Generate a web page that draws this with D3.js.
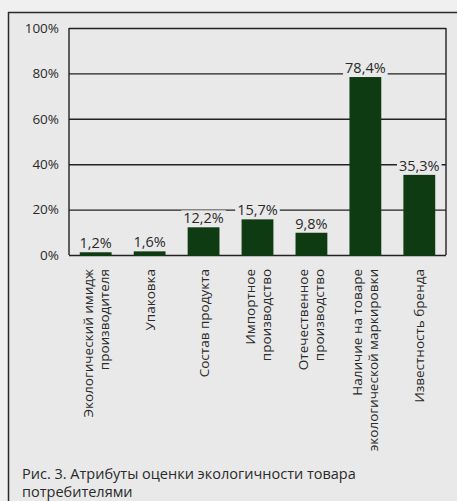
<!DOCTYPE html>
<html><head><meta charset="utf-8">
<script src="https://cdn.jsdelivr.net/npm/d3@7"></script>
<style>
html,body{margin:0;padding:0;background:#ebebeb;}
svg{display:block;}
text{font-family:"Open Sans","Noto Sans",sans-serif;fill:#2a2a2a;}
</style></head>
<body>
<svg id="chart" width="457" height="501"></svg>
<script>
const categories = [
  ["Экологический имидж","производителя"],
  ["Упаковка"],
  ["Состав продукта"],
  ["Импортное","производство"],
  ["Отечественное","производство"],
  ["Наличие на товаре","экологической маркировки"],
  ["Известность бренда"]
];
const values = [1.2, 1.6, 12.2, 15.7, 9.8, 78.4, 35.3];
const valueLabels = ["1,2%","1,6%","12,2%","15,7%","9,8%","78,4%","35,3%"];
const yTicks = [0,20,40,60,80,100];
const caption = ["Рис. 3. Атрибуты оценки экологичности товара","потребителями"];

const svg = d3.select("#chart");
const bg = "#e9e9e9";
const W=457,H=501;
const plot = {left:69,right:446,top:28,bottom:255};

// outer frame
svg.append("rect").attr("x",0).attr("y",0).attr("width",W).attr("height",H).attr("fill","#f0f0f0");
svg.append("rect").attr("x",8).attr("y",12).attr("width",W).attr("height",H).attr("fill",bg);
svg.append("line").attr("x1",8).attr("x2",W).attr("y1",12.5).attr("y2",12.5).attr("stroke","#2a2a2a").attr("stroke-width",1.5);
svg.append("line").attr("x1",8.5).attr("x2",8.5).attr("y1",12).attr("y2",H).attr("stroke","#2a2a2a").attr("stroke-width",1.5);

const x = d3.scaleBand().domain(d3.range(values.length)).range([plot.left,plot.right]).paddingInner(0.41).paddingOuter(0.2);
const y = d3.scaleLinear().domain([0,100]).range([plot.bottom,plot.top]);

// gridlines
const yAxis = d3.axisLeft(y).tickValues(yTicks).tickSize(-(plot.right-plot.left)).tickFormat(d=>d+"%").tickPadding(10);
const gy = svg.append("g").attr("transform",`translate(${plot.left},0)`).call(yAxis);
gy.select(".domain").remove();
gy.selectAll(".tick line").attr("stroke","#222").attr("stroke-width",1.4);
gy.selectAll(".tick text").attr("font-size",13.5).attr("fill","#2a2a2a").attr("font-family","'Open Sans',sans-serif");
// plot border verticals
svg.append("line").attr("x1",plot.left).attr("x2",plot.left).attr("y1",plot.top).attr("y2",plot.bottom).attr("stroke","#222").attr("stroke-width",1.4);
svg.append("line").attr("x1",plot.right).attr("x2",plot.right).attr("y1",plot.top).attr("y2",plot.bottom).attr("stroke","#222").attr("stroke-width",1.4);

// bars
svg.append("g").selectAll("rect").data(values).join("rect")
  .attr("x",(d,i)=>x(i)).attr("width",x.bandwidth())
  .attr("y",d=>y(d)).attr("height",d=>y(0)-y(d)+1)
  .attr("fill","#0f3b13");

// value labels with background
const vl = svg.append("g").selectAll("g").data(values).join("g");
vl.each(function(d,i){
  const g=d3.select(this);
  const t=g.append("text").attr("x",x(i)+x.bandwidth()/2).attr("y",y(d)-4)
    .attr("text-anchor","middle").attr("font-size",14.5).text(valueLabels[i]);
  const b=t.node().getBBox();
  g.insert("rect","text").attr("x",b.x-2).attr("y",b.y+2).attr("width",b.width+4).attr("height",b.height-4).attr("fill",bg);
});

// category labels
const cl = svg.append("g").selectAll("g").data(categories).join("g")
  .attr("transform",(d,i)=>`translate(${x(i)+x.bandwidth()/2},269) rotate(-90)`);
cl.each(function(lines){
  const g=d3.select(this);
  const n=lines.length;
  lines.forEach((s,k)=>{
    g.append("text").attr("x",0).attr("y",(k-(n-1)/2)*16)
      .attr("dominant-baseline","central").attr("text-anchor","end")
      .attr("font-size",13.5).text(s);
  });
});

// caption
svg.append("g").selectAll("text").data(caption).join("text")
  .attr("x",22).attr("y",(d,i)=>479+i*18).attr("font-size",14.5).text(d=>d);
</script>
</body></html>
